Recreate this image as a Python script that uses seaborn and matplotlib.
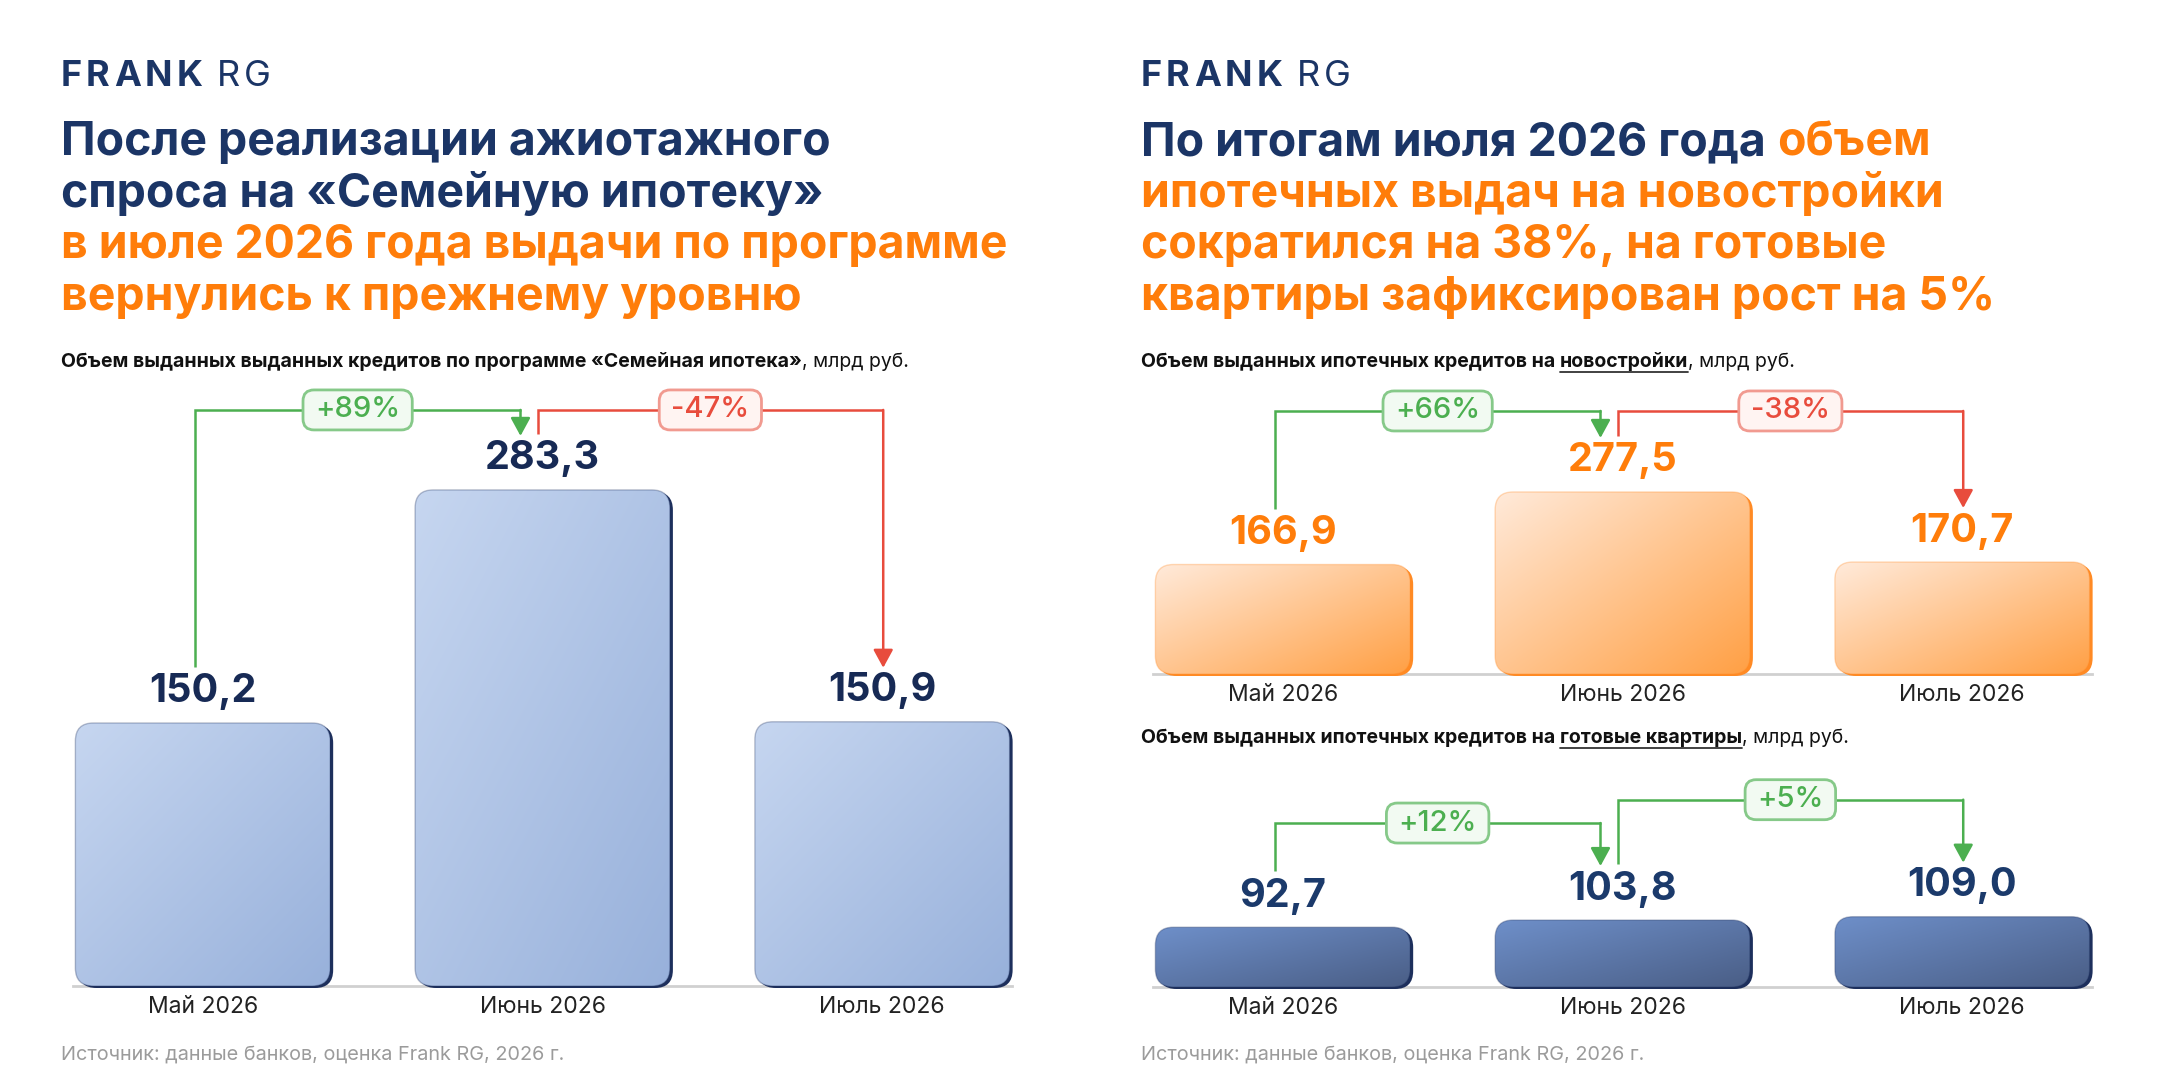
import matplotlib.pyplot as plt
import matplotlib.colors as mcolors
from matplotlib.patches import FancyBboxPatch
from matplotlib.lines import Line2D
import numpy as np
import pandas as pd
import seaborn as sns

W, H = 2160, 1080

# data
months = ["Май 2026", "Июнь 2026", "Июль 2026"]
family_loans = [150.2, 283.3, 150.9]
new_build_loans = [166.9, 277.5, 170.7]
ready_loans = [92.7, 103.8, 109.0]
family_changes = ["+89%", "-47%"]
new_build_changes = ["+66%", "-38%"]
ready_changes = ["+12%", "+5%"]

NAVY = "#1b3566"
ORANGE = "#ff7d0a"
GREEN = "#4caf50"
RED = "#e84c3d"
SOURCE = "Источник: данные банков, оценка Frank RG, 2026 г."

sns.set_style("white")
plt.rcParams["font.family"] = ["Inter", "DejaVu Sans"]

fig = plt.figure(figsize=(W / 100, H / 100), dpi=100)
fig.patch.set_facecolor("white")
renderer = fig.canvas.get_renderer()


def px_axes(x0, y0, x1, y1):
    return fig.add_axes([x0 / W, 1 - y1 / H, (x1 - x0) / W, (y1 - y0) / H])


def ftext(x, y, s, **kw):
    return fig.text(x / W, 1 - y / H, s, va="baseline", **kw)


def space_width(**kw):
    a = ftext(0, 0, "н н", **kw)
    b = ftext(0, 0, "нн", **kw)
    w = a.get_window_extent(renderer).width - b.get_window_extent(renderer).width
    a.remove()
    b.remove()
    return w


def rich(x, y, parts, size, weight="bold"):
    # parts: (text, color, weight or None, underline)
    for s, c, wgt, ul in parts:
        wgt = wgt or weight
        trail = s.endswith(" ")
        t = ftext(x, y, s.rstrip(" "), color=c, fontsize=size, fontweight=wgt)
        bb = t.get_window_extent(renderer)
        if ul:
            yy = 1 - (y + 5) / H
            fig.add_artist(Line2D([bb.x0 / W, bb.x1 / W], [yy, yy],
                                  transform=fig.transFigure, color="#333333", lw=1.3))
        x += bb.width
        if trail:
            x += space_width(fontsize=size, fontweight=wgt)


def logo(x, y):
    for word, wgt in [("FRANK", "bold"), ("RG", "normal")]:
        for ch in word:
            t = ftext(x, y, ch, color=NAVY, fontsize=26, fontweight=wgt)
            x += t.get_window_extent(renderer).width + 4
        x += 10


def draw_chart(ax, values, changes, ymax, c_light, c_dark, c_edge, label_color, levels):
    df = pd.DataFrame({"month": months, "value": values})
    sns.barplot(data=df, x="month", y="value", ax=ax, width=0.75, color=c_light)
    x_lo, x_hi = -0.382, 2.382
    ax.set_xlim(x_lo, x_hi)
    ax.set_ylim(0, ymax)
    bb = ax.get_window_extent(renderer)
    xu = (x_hi - x_lo) / bb.width
    yu = ymax / bb.height
    cmap = mcolors.LinearSegmentedColormap.from_list("g", [c_light, c_dark])
    gx, gy = np.meshgrid(np.linspace(0, 1, 120), np.linspace(0, 1, 120))
    grad = (gx + gy) / 2
    R = 18
    bars = list(ax.patches)
    centers = []
    for p, v in zip(bars, values):
        x, w, h = p.get_x(), p.get_width(), p.get_height()
        p.set_visible(False)
        style = f"round,pad=0,rounding_size={R * xu}"
        shadow = FancyBboxPatch((x + 3 * xu, -2 * yu), w, h, boxstyle=style,
                                mutation_aspect=yu / xu, fc=c_edge, ec="none",
                                zorder=3, clip_on=False)
        ax.add_patch(shadow)
        body = FancyBboxPatch((x, 0), w, h, boxstyle=style, mutation_aspect=yu / xu,
                              fc="none", ec=c_edge, lw=1.0, alpha=0.3, zorder=5)
        ax.add_patch(body)
        im = ax.imshow(grad, cmap=cmap, extent=(x, x + w, 0, h), origin="upper",
                       aspect="auto", zorder=4, interpolation="bilinear")
        im.set_clip_path(body)
        centers.append(x + w / 2)
        ax.text(x + w / 2, h + 31 * yu, f"{v:.1f}".replace(".", ","), ha="center",
                va="center", fontsize=28.5, fontweight="bold", color=label_color, zorder=6)

    start_off = [-8, -5]
    end_off = [-22, 1]
    for k, lab in enumerate(changes):
        i, j = k, k + 1
        col = RED if lab.startswith("-") else GREEN
        sx = centers[i] + start_off[k] * xu
        ex = centers[j] + end_off[k] * xu
        sy = values[i] + 56 * yu
        ey = values[j] + 54 * yu
        ly = max(values[i], values[j]) + levels[k] * yu
        ax.plot([sx, sx, ex], [sy, ly, ly], color=col, lw=1.8, zorder=4,
                solid_joinstyle="miter", solid_capstyle="butt", clip_on=False)
        ax.annotate("", xy=(ex, ey), xytext=(ex, ly),
                    arrowprops=dict(arrowstyle="-|>,head_width=0.3,head_length=0.55",
                                    color=col, lw=1.8, shrinkA=0, shrinkB=0,
                                    mutation_scale=20), annotation_clip=False)
        t = ax.text((sx + ex) / 2, ly, lab, ha="center", va="center", fontsize=21,
                    fontweight="medium", color=col, zorder=8)
        tb = t.get_window_extent(renderer)
        bw, bh = (tb.width + 24) * xu, 40 * yu
        box = FancyBboxPatch(((sx + ex) / 2 - bw / 2, ly - bh / 2), bw, bh,
                             boxstyle=f"round,pad=0,rounding_size={11 * xu}",
                             mutation_aspect=yu / xu,
                             fc="#f2faf2" if col == GREEN else "#fff4f2",
                             ec="#86c989" if col == GREEN else "#f19a90",
                             lw=2, zorder=7, clip_on=False)
        ax.add_patch(box)

    ax.set_xlabel("")
    ax.set_ylabel("")
    ax.set_yticks([])
    ax.tick_params(axis="x", length=0, pad=7, labelsize=16.5, colors="#222222")
    for s in ["top", "right", "left"]:
        ax.spines[s].set_visible(False)
    ax.spines["bottom"].set_color("#d0d0d0")
    ax.spines["bottom"].set_linewidth(2)
    ax.set_facecolor("none")


TS = 33.4
SS = 14.0
# left panel
logo(61, 86)
rich(61, 155, [("После реализации ажиотажного", NAVY, None, False)], TS)
rich(61, 207, [("спроса на «Семейную ипотеку»", NAVY, None, False)], TS)
rich(61, 258, [("в июле 2026 года выдачи по программе", ORANGE, None, False)], TS)
rich(61, 310, [("вернулись к прежнему уровню", ORANGE, None, False)], TS)
rich(61, 367, [("Объем выданных выданных кредитов по программе «Семейная ипотека»", "#111111", "bold", False),
               (", млрд руб.", "#111111", "normal", False)], SS)
ax1 = px_axes(73, 391, 1012, 986)
draw_chart(ax1, family_loans, family_changes, 339.8, "#c6d6f0", "#98b1db", "#1d2f5c",
           "#172a55", [80, 80])
ftext(61, 1060, SOURCE, fontsize=14.3, color="#9b9b9b")

# right panel
logo(1141, 86)
rich(1141, 155, [("По итогам июля 2026 года ", NAVY, None, False), ("объем", ORANGE, None, False)], TS)
rich(1141, 207, [("ипотечных выдач на новостройки", ORANGE, None, False)], TS)
rich(1141, 258, [("сократился на 38%, на готовые", ORANGE, None, False)], TS)
rich(1141, 310, [("квартиры зафиксирован рост на 5%", ORANGE, None, False)], TS)
rich(1141, 367, [("Объем выданных ипотечных кредитов на ", "#111111", "bold", False),
                 ("новостройки", "#111111", "bold", True),
                 (", млрд руб.", "#111111", "normal", False)], SS)
ax2 = px_axes(1153, 391, 2092, 674)
draw_chart(ax2, new_build_loans, new_build_changes, 431.4, "#ffeada", "#ffa045", "#ff8a24",
           ORANGE, [81, 81])
rich(1141, 743, [("Объем выданных ипотечных кредитов на ", "#111111", "bold", False),
                 ("готовые квартиры", "#111111", "bold", True),
                 (", млрд руб.", "#111111", "normal", False)], SS)
ax3 = px_axes(1153, 770, 2092, 987)
draw_chart(ax3, ready_loans, ready_changes, 336.4, "#6e8fc9", "#4a5e86", "#1d2f5c",
           "#1b3a6b", [97, 117])
ftext(1141, 1060, SOURCE, fontsize=14.3, color="#9b9b9b")

fig.savefig("out.png", dpi=100, facecolor="white")
